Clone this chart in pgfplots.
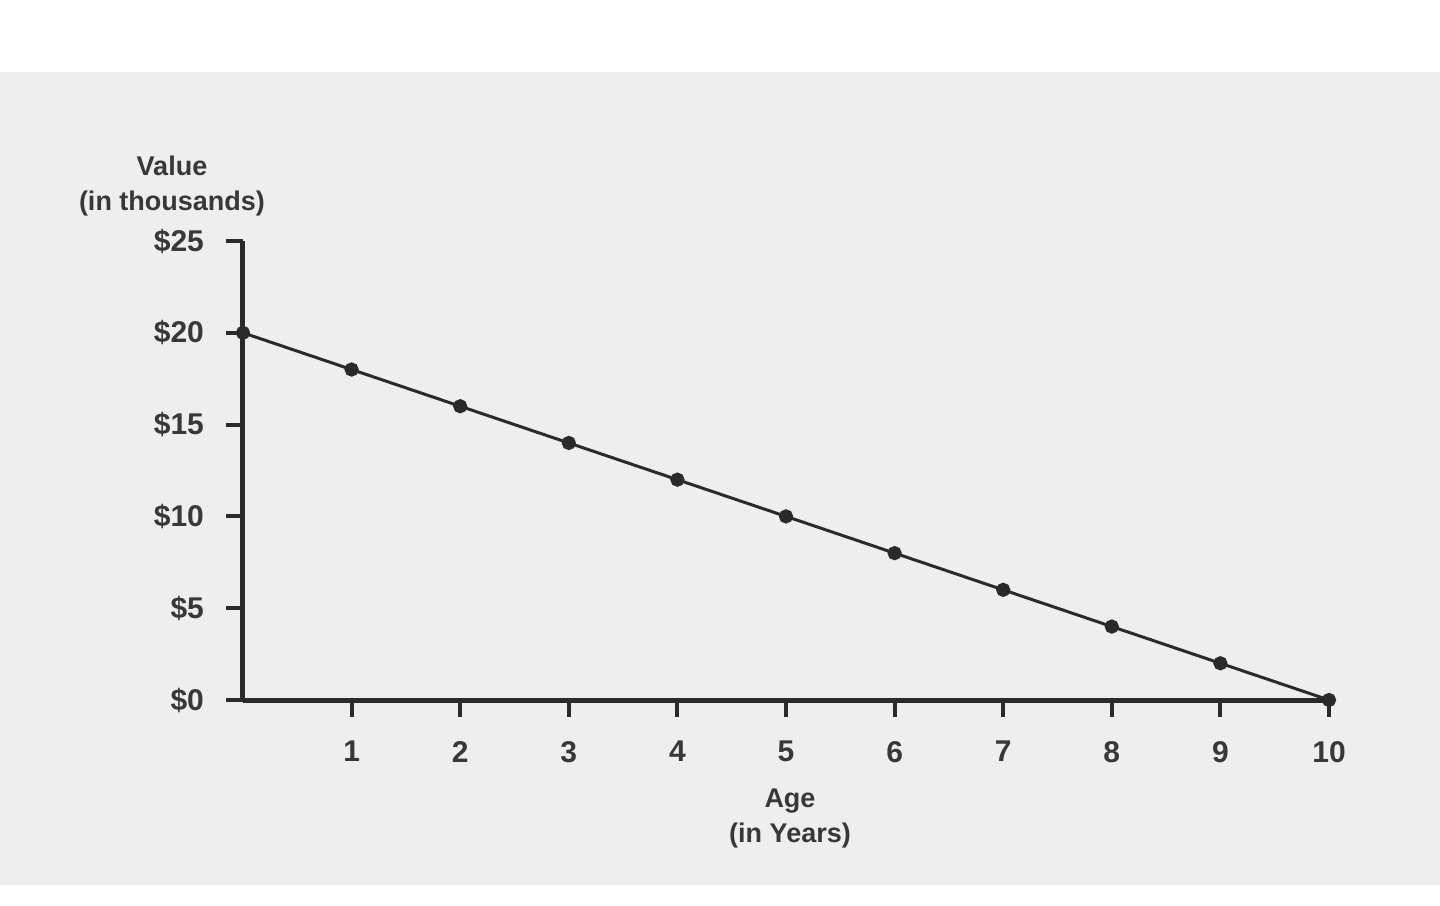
\documentclass[border=0pt]{standalone}
\usepackage{fontspec}
\setmainfont{Liberation Sans}
\usepackage{pgfplots}
\pgfplotsset{compat=1.18}
\definecolor{bg}{HTML}{EEEEEE}
\definecolor{ink}{HTML}{2A2A2A}
\definecolor{txt}{HTML}{383838}
\begin{document}
\begin{tikzpicture}
\path[fill=white] (0,0) rectangle (720pt,452.5pt);
\path[fill=bg] (0,10pt) rectangle (720pt,416.5pt);
\begin{axis}[
  at={(121.5pt,102.5pt)}, anchor=south west,
  scale only axis, width=543pt, height=229.5pt,
  xmin=0, xmax=10, ymin=0, ymax=25,
  clip=false,
  axis x line=bottom, axis y line=left,
  axis line style={-, line width=2.5pt, color=ink},
  tick align=outside,
  major tick length=8.5pt,
  tick style={line width=2pt, color=ink},
  xtick={1,2,3,4,5,6,7,8,9,10},
  ytick={0,5,10,15,20,25},
  yticklabels={\$0,\$5,\$10,\$15,\$20,\$25},
  /pgf/number format/assume math mode=true,
  ticklabel style={font=\fontsize{15}{18}\selectfont\bfseries, text=txt},
  xticklabel style={anchor=north, yshift=-8.5pt},
  yticklabel style={anchor=east, xshift=-7.5pt},
  xlabel={Age\\(in Years)},
  ylabel={Value\\(in thousands)},
  xlabel style={at={(rel axis cs:0.5,0)}, anchor=north, yshift=-41pt, xshift=2pt, align=center, font=\fontsize{13.5}{17.5}\selectfont\bfseries, text=txt},
  ylabel style={rotate=-90, at={(rel axis cs:0,1)}, anchor=south, xshift=-35.5pt, yshift=9pt, align=center, font=\fontsize{13.5}{17.5}\selectfont\bfseries, text=txt},
]
\addplot[color=ink, line width=1.5pt, mark=*, mark size=2.8pt, mark options={fill=ink, draw=ink}] coordinates {
(0,20) (1,18) (2,16) (3,14) (4,12) (5,10) (6,8) (7,6) (8,4) (9,2) (10,0)
};
\end{axis}
\end{tikzpicture}
\end{document}
